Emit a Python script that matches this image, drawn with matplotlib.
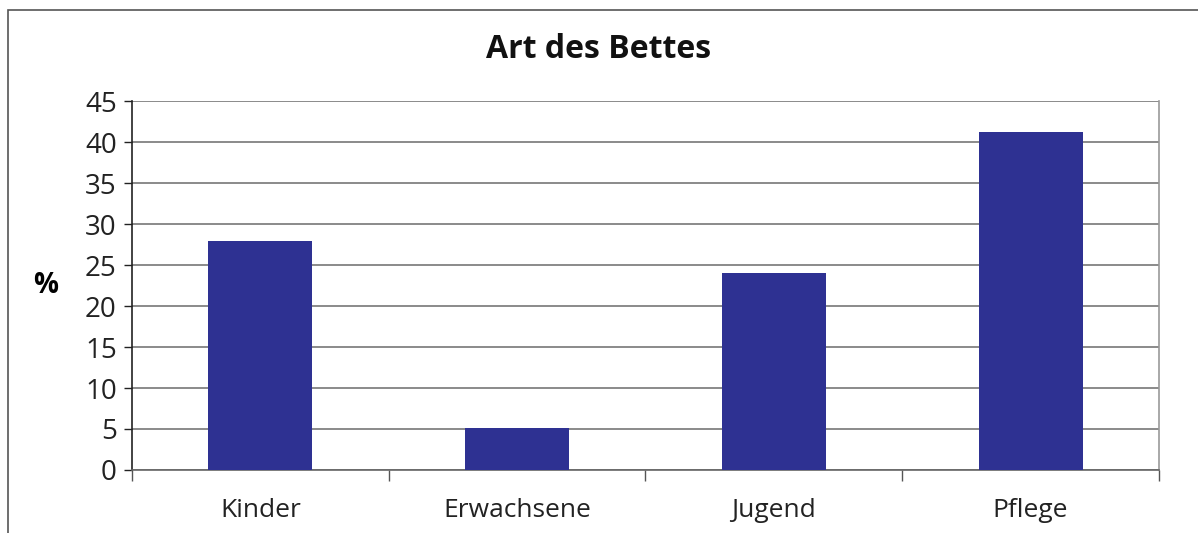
import matplotlib.pyplot as plt
from matplotlib.patches import Rectangle

categories = ["Kinder", "Erwachsene", "Jugend", "Pflege"]
values = [27.9, 5.1, 24.0, 41.2]
yticks = [0, 5, 10, 15, 20, 25, 30, 35, 40, 45]

plt.rcParams['font.family'] = ['Open Sans', 'DejaVu Sans']

fig = plt.figure(figsize=(11.98, 5.33), dpi=100)
ax = fig.add_axes([0.1102, 0.1182, 0.8572, 0.6923])

# frame around the whole chart (cut off at right and bottom)
fig.patches.append(Rectangle((8 / 1198, -0.1), 1.2, 0.1 + 1 - 10 / 533,
                             transform=fig.transFigure, fill=False,
                             edgecolor="#555555", linewidth=1.2))

x = range(len(categories))
ax.bar(x, values, width=0.405, color="#2E3192", zorder=3)

ax.set_xlim(-0.5, len(categories) - 0.5)
ax.set_ylim(0, 45)
ax.set_yticks(yticks)
ax.yaxis.grid(True, color="#777777", linewidth=1.2, zorder=0)

ax.set_xticks([i + 0.5 for i in range(-1, len(categories))], minor=False)
ax.set_xticklabels([])
ax.set_xticks(list(x), minor=True)
ax.set_xticklabels(categories, minor=True)
ax.tick_params(axis="x", which="major", length=8, direction="out", color="#555555", width=1)
ax.tick_params(axis="x", which="minor", length=0, pad=20, labelsize=19, colors="#222222")
ax.tick_params(axis="y", length=6, direction="out", width=1, labelsize=20, colors="#222222", pad=5)

ax.spines["top"].set_visible(False)
ax.spines["left"].set_color("#222222")
ax.spines["bottom"].set_color("#666666")
ax.spines["right"].set_color("#999999")
for s in ax.spines.values():
    s.set_linewidth(1.2)

ax.set_ylabel("%", rotation=0, fontsize=20, fontweight="bold", labelpad=28, va="center")
fig.text(0.5, 1 - 50 / 533, "Art des Bettes", ha="center", va="center",
         fontsize=23, fontweight="bold", color="#111111")

fig.savefig("out.png", dpi=100)
